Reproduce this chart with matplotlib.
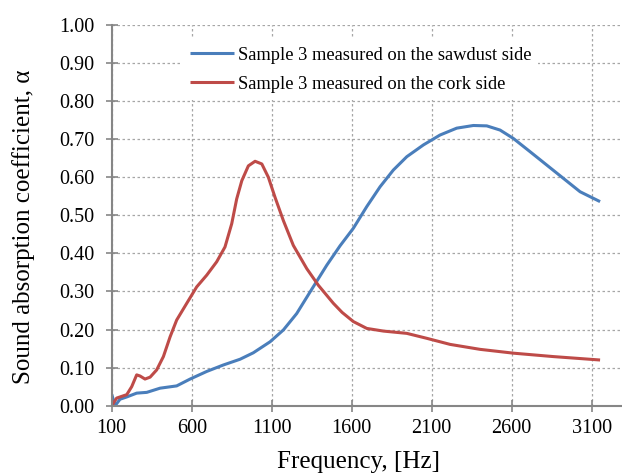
import matplotlib
matplotlib.use("Agg")
import matplotlib.pyplot as plt

# values
freq_sawdust = [100, 121, 152, 194, 256, 319, 402, 506, 590, 694, 798, 902, 985,
                1090, 1173, 1256, 1340, 1444, 1527, 1610, 1694, 1777, 1860, 1944,
                2048, 2152, 2256, 2360, 2444, 2527, 2610, 2715, 2819, 2923, 3027, 3152]
alpha_sawdust = [0.03, 0.0, 0.017, 0.023, 0.033, 0.035, 0.046, 0.052, 0.07, 0.09, 0.107,
                 0.122, 0.139, 0.168, 0.199, 0.242, 0.299, 0.369, 0.42, 0.466, 0.523,
                 0.575, 0.619, 0.654, 0.685, 0.711, 0.729, 0.736, 0.735, 0.724, 0.702,
                 0.667, 0.632, 0.597, 0.562, 0.536]

freq_cork = [100, 131, 194, 225, 256, 277, 308, 340, 381, 423, 465, 506, 569, 631,
             694, 756, 808, 850, 881, 913, 954, 996, 1038, 1079, 1121, 1173, 1235,
             1319, 1392, 1485, 1540, 1610, 1694, 1798, 1944, 2069, 2215, 2402, 2610,
             2860, 3152]
alpha_cork = [0.0, 0.02, 0.029, 0.05, 0.081, 0.078, 0.07, 0.075, 0.094, 0.129, 0.181,
              0.225, 0.269, 0.312, 0.343, 0.378, 0.417, 0.478, 0.543, 0.591, 0.63,
              0.642, 0.635, 0.6, 0.547, 0.486, 0.421, 0.36, 0.316, 0.269, 0.245,
              0.221, 0.203, 0.196, 0.19, 0.177, 0.161, 0.148, 0.138, 0.129, 0.12]

x_ticks = [100, 600, 1100, 1600, 2100, 2600, 3100]
y_ticks = [i / 10 for i in range(11)]

plt.rcParams['font.family'] = ['Liberation Serif', 'DejaVu Serif']

fig = plt.figure(figsize=(6.22, 4.75), dpi=100)
ax = fig.add_axes([0.1796, 0.1459, 0.8204, 0.8015])

ax.plot(freq_sawdust, alpha_sawdust, color='#4a7ebb', lw=2.2,
        label="Sample 3 measured on the sawdust side", solid_capstyle='butt')
ax.plot(freq_cork, alpha_cork, color='#be4b48', lw=2.2,
        label="Sample 3 measured on the cork side", solid_capstyle='butt')

ax.set_xlim(100, 3289)
ax.set_ylim(0, 1.0)
ax.set_xticks(x_ticks)
ax.set_yticks(y_ticks)
ax.set_yticklabels([f"{v:.2f}" for v in y_ticks])
ax.tick_params(axis='both', labelsize=14.5, color='#868686', width=1.2,
               direction='inout', length=9)
ax.tick_params(axis='x', pad=5)
ax.tick_params(axis='y', pad=8)

ax.grid(True, color='#a6a6a6', linestyle=(0, (2, 2)), lw=0.9)
ax.set_axisbelow(True)
for side in ['top', 'right']:
    ax.spines[side].set_visible(False)
for side in ['left', 'bottom']:
    ax.spines[side].set_color('#868686')
    ax.spines[side].set_linewidth(1.5)

ax.set_xlabel("Frequency, [Hz]", fontsize=18)
ax.set_ylabel("Sound absorption coefficient, α", fontsize=18)
ax.xaxis.set_label_coords(0.483, -0.118)
ax.yaxis.set_label_coords(-0.150, 0.47)

leg = ax.legend(loc='upper left', bbox_to_anchor=(0.138, 0.962, 0.0, 0.0),
                fontsize=13.3, frameon=True, fancybox=False, handlelength=2.4,
                handletextpad=0.2, borderaxespad=0, labelspacing=0.65)
leg.get_frame().set_edgecolor('none')
leg.get_frame().set_facecolor('white')
leg.get_frame().set_alpha(1.0)

fig.savefig("out.png", dpi=100)
